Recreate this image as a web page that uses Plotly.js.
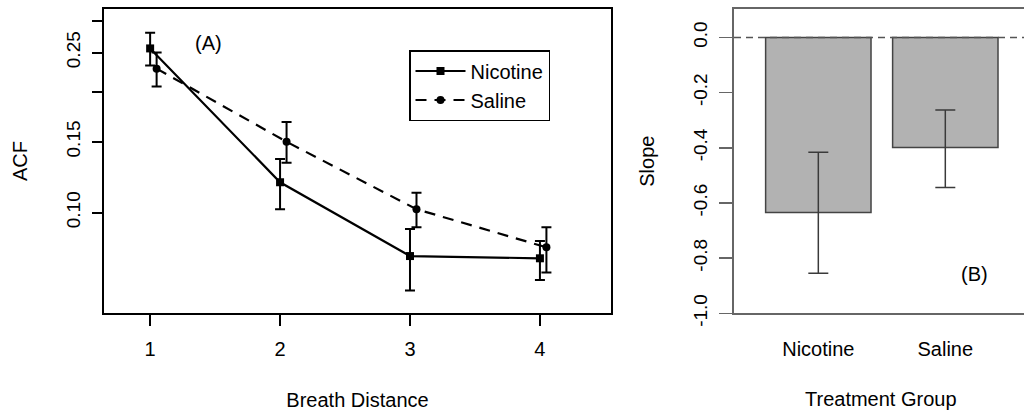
<!DOCTYPE html>
<html>
<head>
<meta charset="utf-8">
<script src="https://cdn.plot.ly/plotly-3.0.1.min.js"></script>
<style>
  html, body { margin: 0; padding: 0; background: #fff; overflow: hidden; width: 1024px; height: 412px; }
  #chart { width: 1030px; height: 412px; }
</style>
</head>
<body>
<div id="chart"></div>
<script>
// ---- Panel A data: autocorrelation by breath distance ----
const breathDistance = [1, 2, 3, 4];
const salineDistance = [1.05, 2.05, 3.05, 4.05];
const nicotineACF   = [0.256, 0.119, 0.078, 0.077];
const nicotineUpper = [0.280, 0.136, 0.091, 0.085];
const nicotineLower = [0.232, 0.102, 0.064, 0.068];
const salineACF     = [0.228, 0.150, 0.102, 0.082];
const salineUpper   = [0.250, 0.168, 0.112, 0.092];
const salineLower   = [0.206, 0.133, 0.092, 0.071];
const acfTickVals   = [0.10, 0.15, 0.20, 0.25, 0.30];
const acfTickText   = ['0.10', '0.15', '', '0.25', ''];
const distTickVals  = [1, 2, 3, 4];
const distTickText  = ['1', '2', '3', '4'];

// ---- Panel B data: slope by treatment group ----
const groups      = ['Nicotine', 'Saline'];
const slope       = [-0.635, -0.399];
const slopeUpper  = [-0.416, -0.263];
const slopeLower  = [-0.855, -0.544];
const slopeTickVals = [0, -0.2, -0.4, -0.6, -0.8, -1.0];
const slopeTickText = ['0.0', '-0.2', '-0.4', '-0.6', '-0.8', '-1.0'];

const W = 1030, H = 412;
const FONT = 'Liberation Sans, Arial, Helvetica, sans-serif';
const FS = 20;
const FSY = 19;

const up = (hi, v) => hi.map((h, i) => h - v[i]);
const dn = (lo, v) => v.map((x, i) => x - lo[i]);

const traces = [
  {
    type: 'scatter', mode: 'lines+markers', name: 'Nicotine',
    x: breathDistance, y: nicotineACF, xaxis: 'x', yaxis: 'y',
    line: { color: '#000', width: 2.2, dash: 'solid' },
    marker: { symbol: 'square', size: 8, color: '#000' },
    error_y: { type: 'data', symmetric: false, array: up(nicotineUpper, nicotineACF),
               arrayminus: dn(nicotineLower, nicotineACF), color: '#000', thickness: 2, width: 5 }
  },
  {
    type: 'scatter', mode: 'lines+markers', name: 'Saline',
    x: salineDistance, y: salineACF, xaxis: 'x', yaxis: 'y',
    line: { color: '#000', width: 2.2, dash: '11px,8px' },
    marker: { symbol: 'circle', size: 8, color: '#000' },
    error_y: { type: 'data', symmetric: false, array: up(salineUpper, salineACF),
               arrayminus: dn(salineLower, salineACF), color: '#000', thickness: 2, width: 5 }
  },
  {
    type: 'bar', x: groups, y: slope, xaxis: 'x2', yaxis: 'y2', showlegend: false,
    width: 0.83,
    marker: { color: '#b2b2b2', line: { color: '#444', width: 1.5 } },
    error_y: { type: 'data', symmetric: false, array: up(slopeUpper, slope),
               arrayminus: dn(slopeLower, slope), color: '#3a3a3a', thickness: 1.5, width: 10 }
  }
];

const layout = {
  width: W, height: H,
  margin: { l: 0, r: 0, t: 0, b: 0 },
  paper_bgcolor: '#fff', plot_bgcolor: '#fff',
  font: { family: FONT, size: FS, color: '#000' },
  showlegend: true,
  legend: {
    x: 409 / W, y: 1 - 50 / H, xanchor: 'left', yanchor: 'top',
    bordercolor: '#000', borderwidth: 1.5, bgcolor: '#fff',
    font: { family: FONT, size: FS, color: '#000' },
    tracegroupgap: 0, itemwidth: 50
  },
  xaxis: {
    domain: [104 / W, 611 / W], anchor: 'y',
    range: [0.645, 4.547], tickmode: 'array', tickvals: distTickVals, ticktext: distTickText,
    showgrid: false, zeroline: false, showline: true, mirror: true, linecolor: '#000', linewidth: 2,
    ticks: 'outside', ticklen: 11, tickwidth: 2, tickcolor: '#000',
    tickfont: { family: FONT, size: FS, color: '#000' }, ticklabelstandoff: 6,
    title: { text: 'Breath Distance', font: { family: FONT, size: FS, color: '#000' }, standoff: 34 }
  },
  yaxis: {
    domain: [1 - 313 / H, 1 - 9 / H], anchor: 'x',
    type: 'log', range: [Math.log10(0.0563), Math.log10(0.3208)],
    tickmode: 'array', tickvals: acfTickVals, ticktext: acfTickText, tickangle: -90,
    showgrid: false, zeroline: false, showline: true, mirror: true, linecolor: '#000', linewidth: 2,
    ticks: 'outside', ticklen: 10, tickwidth: 2, tickcolor: '#000',
    tickfont: { family: FONT, size: FSY, color: '#000' }, ticklabelstandoff: 4,
    title: { text: 'ACF', font: { family: FONT, size: FS, color: '#000' }, standoff: 30 }
  },
  xaxis2: {
    domain: [734 / W, 1027.6 / W], anchor: 'y2',
    type: 'category', range: [-0.664, 1.648],
    showgrid: false, zeroline: false, showline: true, mirror: true, linecolor: '#666', linewidth: 2,
    ticks: 'outside', ticklen: 11, tickwidth: 1, tickcolor: 'rgba(0,0,0,0)',
    tickfont: { family: FONT, size: FS, color: '#000' }, ticklabelstandoff: 6,
    title: { text: 'Treatment Group', font: { family: FONT, size: FS, color: '#000' }, standoff: 33 }
  },
  yaxis2: {
    domain: [1 - 313.3 / H, 1 - 9 / H], anchor: 'x2',
    range: [-1.0, 0.103], tickmode: 'array', tickvals: slopeTickVals, ticktext: slopeTickText, tickangle: -90,
    showgrid: false, zeroline: false, showline: true, mirror: true, linecolor: '#666', linewidth: 2,
    ticks: 'outside', ticklen: 13, tickwidth: 1.5, tickcolor: '#666',
    tickfont: { family: FONT, size: FSY, color: '#000' }, ticklabelstandoff: 4,
    title: { text: 'Slope', font: { family: FONT, size: FS, color: '#000' }, standoff: 30 }
  },
  shapes: [
    { type: 'line', xref: 'x2 domain', yref: 'y2', x0: 0, x1: 1, y0: 0, y1: 0,
      line: { color: '#555', width: 1.5, dash: '7px,5px' }, layer: 'above' }
  ],
  annotations: [
    { text: '(A)', xref: 'paper', yref: 'paper', x: 208 / W, y: 1 - 43 / H,
      xanchor: 'center', yanchor: 'middle', showarrow: false, font: { family: FONT, size: FS, color: '#000' } },
    { text: '(B)', xref: 'paper', yref: 'paper', x: 974.5 / W, y: 1 - 274 / H,
      xanchor: 'center', yanchor: 'middle', showarrow: false, font: { family: FONT, size: FS, color: '#000' } }
  ]
};

Plotly.newPlot('chart', traces, layout, { staticPlot: true, displayModeBar: false });
</script>
</body>
</html>
